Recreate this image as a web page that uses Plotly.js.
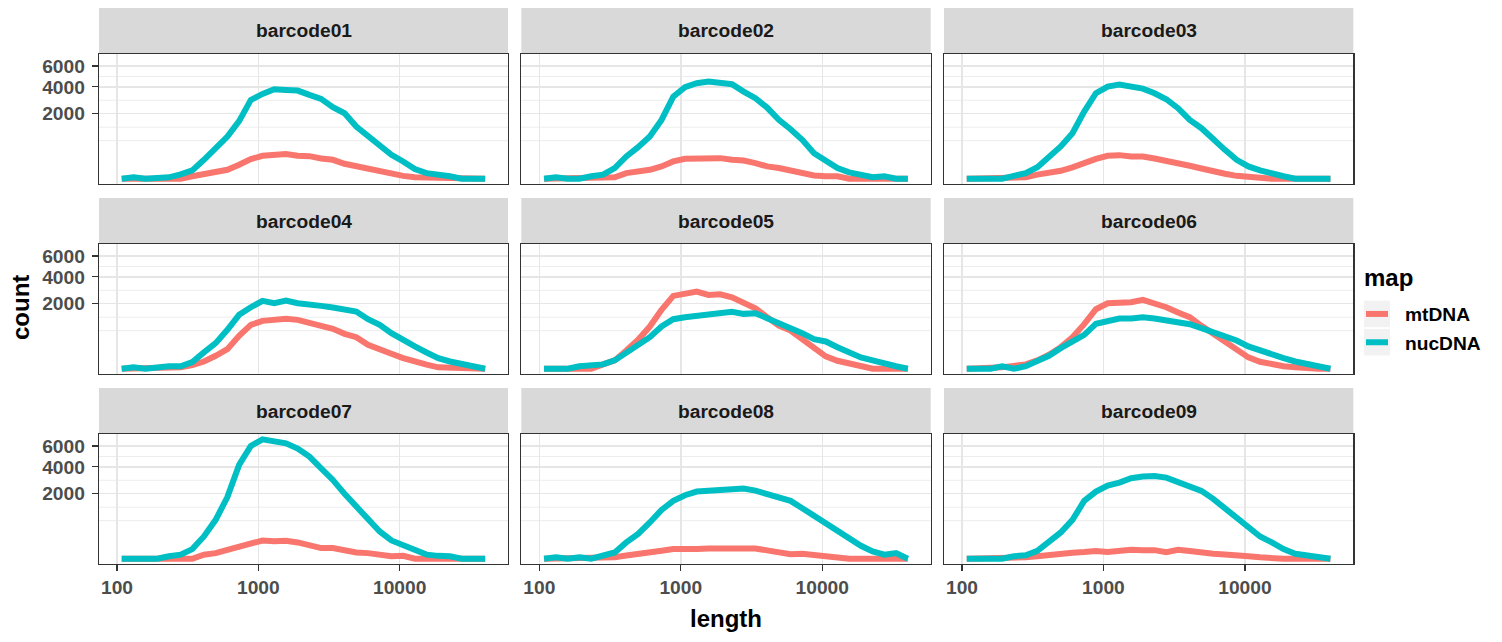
<!DOCTYPE html>
<html><head><meta charset="utf-8">
<script src="https://cdn.plot.ly/plotly-3.0.1.min.js"></script>
<style>html,body{margin:0;padding:0;background:#fff}#chart{width:1502px;height:642px}</style>
</head><body><div id="chart"></div>
<script>
// ---------- data ----------
const barcodes = ['barcode01','barcode02','barcode03','barcode04','barcode05','barcode06','barcode07','barcode08','barcode09'];
const seriesNames = ['mtDNA','nucDNA'];
const seriesColors = ['#F8766D','#00BFC4'];
const lengths = [108,131,159,192,233,282,341,412,499,604,731,885,1071,1296,1569,1899,2298,2782,3367,4075,4932,5969,7224,8744,10583,12809,15503,18764,22711,27487,33268,40265];

const mt01  = [0,0,0,0,0,0,3,10,19,38,92,182,249,264,287,249,242,195,170,106,72,47,23,10,4,1,1,0,0,0,0,0];
const nuc01 = [0,1,0,0,1,9,33,170,472,844,1570,2940,3404,3788,3732,3677,3325,3015,2420,2032,1290,844,513,271,142,44,15,9,3,0,0,0];
const mt02  = [0,0,0,0,0,0,1,15,25,38,72,142,188,201,188,201,170,158,116,72,54,33,12,5,3,3,0,0,0,0,0,0];
const nuc02 = [0,1,0,0,3,8,54,235,472,844,1640,3194,3959,4313,4464,4283,4223,3594,3066,2398,1640,1162,717,310,158,54,19,8,1,3,0,0];
const mt03  = [0,0,0,0,0,1,8,15,30,61,126,188,249,264,235,235,195,158,126,80,50,25,12,4,1,0,0,0,0,0,0,0];
const nuc03 = [0,0,0,0,4,15,64,235,493,983,2136,3458,4017,4193,4046,3845,3458,2991,2353,1640,1210,717,396,170,72,33,12,3,0,0,0,0];
const mt04  = [0,0,0,0,0,1,6,25,80,182,513,912,1086,1131,1178,1131,983,844,754,577,472,271,170,106,54,23,8,1,1,0,0,0];
const nuc04 = [0,1,0,1,3,3,21,126,310,717,1374,1792,2179,2032,2200,2032,1991,1870,1773,1696,1549,1162,912,599,378,235,126,54,25,10,1,0];
const mt05  = [0,0,0,0,0,9,33,158,396,844,1640,2511,2698,2818,2580,2627,2420,2073,1734,1258,885,692,415,201,72,30,12,3,0,0,0,0];
const nuc05 = [0,0,0,3,4,9,33,126,271,472,844,1162,1258,1324,1408,1460,1531,1425,1460,1210,983,818,599,415,352,221,116,61,33,12,3,0];
const mt06  = [0,0,0,1,4,9,33,92,221,472,940,1677,2032,2073,2094,2243,2011,1792,1495,1258,871,566,327,158,61,23,8,3,1,0,0,0];
const nuc06 = [0,0,0,3,0,3,30,80,201,352,545,954,1101,1194,1194,1258,1194,1101,1026,940,779,633,534,378,235,153,92,54,25,12,1,0];
const mt07  = [0,0,0,0,0,0,0,8,15,38,72,116,158,147,153,126,80,54,54,30,19,15,8,3,4,0,0,0,0,0,0,0];
const nuc07 = [0,0,0,0,3,8,44,235,717,1800,4164,6017,6748,6598,6304,5736,4934,3874,2941,1991,1324,741,352,158,92,38,8,4,3,0,0,0];
const mt08  = [0,0,0,0,0,0,1,5,9,15,30,44,38,44,50,50,61,47,50,33,19,10,12,6,3,1,0,0,0,0,0,0];
const nuc08 = [0,1,0,1,0,4,19,126,294,622,1131,1585,1910,2136,2179,2265,2353,2331,2200,1991,1831,1585,1210,871,633,396,201,80,25,8,15,0];
const mt09  = [0,0,0,0,0,1,3,8,10,17,21,28,21,30,38,35,35,21,38,28,17,12,9,8,3,1,0,0,0,0,0,0];
const nuc09 = [0,0,0,0,3,6,30,126,327,717,1585,2136,2534,2746,3066,3194,3246,3117,2818,2534,2179,1696,1210,779,434,235,126,44,12,4,1,0];

const yBreaks = [2000,4000,6000];
const xBreaks = [100,1000,10000];
const xTickText = ['100','1000','10000'];

const panelData = [[mt01,nuc01],[mt02,nuc02],[mt03,nuc03],[mt04,nuc04],[mt05,nuc05],[mt06,nuc06],[mt07,nuc07],[mt08,nuc08],[mt09,nuc09]];

// ---------- layout geometry ----------
const W = 1502, H = 642;
const FONT = 'Liberation Sans, Arial, Helvetica, sans-serif';
const colPx = [[99,508],[521.3,930.7],[944,1353.3]];
const rowPx = [[54,184],[244,374],[434,564]];
const stripH = 46;
const fx = p => p / W, fy = p => 1 - p / H;
const X_RANGE = [1.8726, 4.7666];   // log10 units
const Y_RANGE = [-3.6, 85.8];       // sqrt units

// sqrt transform for the y scale (ggplot scale_y_sqrt)
const sq = v => Math.sqrt(v);
const yMajS = yBreaks.map(sq);
const xMajL = xBreaks.map(Math.log10);
// ggplot-style minor breaks: midpoints in transformed space, extended one step below/above
function minorBetween(maj) {
  const bd = maj[1] - maj[0];
  const ext = [maj[0] - bd, ...maj, maj[maj.length - 1] + bd];
  const out = [];
  for (let i = 0; i < ext.length - 1; i++) {
    if (!maj.includes(ext[i])) out.push(ext[i]);
    out.push((ext[i] + ext[i + 1]) / 2);
  }
  return out;
}
const yMinor = minorBetween(yMajS).filter(v => v > Y_RANGE[0] && v < Y_RANGE[1]);
const xMinor = minorBetween(xMajL).filter(v => v > X_RANGE[0] && v < X_RANGE[1]);

const traces = [];
const layout = {
  width: W, height: H,
  margin: {l: 0, r: 0, t: 0, b: 0},
  paper_bgcolor: '#FFFFFF', plot_bgcolor: '#FFFFFF',
  showlegend: false,
  shapes: [], annotations: []
};

const gridMajor = '#E6E6E6', gridMinor = '#EDEDED';
for (let i = 0; i < 9; i++) {
  const r = Math.floor(i / 3), c = i % 3;
  const sfx = i === 0 ? '' : String(i + 1);
  const xa = 'x' + sfx, ya = 'y' + sfx;
  layout['xaxis' + sfx] = {
    domain: [fx(colPx[c][0]), fx(colPx[c][1])], anchor: ya,
    type: 'log', range: X_RANGE,
    tickmode: 'array', tickvals: xBreaks, ticktext: xTickText,
    showticklabels: r === 2, ticks: r === 2 ? 'outside' : '', ticklen: 6, tickwidth: 1.3, tickcolor: '#333333',
    ticklabelstandoff: 0,
    tickfont: {family: FONT, size: 19.2, color: '#4D4D4D', weight: 700},
    showgrid: true, gridcolor: gridMajor, gridwidth: 1.5,
    showline: true, mirror: true, linecolor: '#333333', linewidth: 1.3,
    zeroline: false, fixedrange: true
  };
  layout['yaxis' + sfx] = {
    domain: [fy(rowPx[r][1]), fy(rowPx[r][0])], anchor: xa,
    range: Y_RANGE,
    tickmode: 'array', tickvals: yMajS, ticktext: yBreaks.map(String),
    showticklabels: c === 0, ticks: c === 0 ? 'outside' : '', ticklen: 6, tickwidth: 1.3, tickcolor: '#333333',
    ticklabelstandoff: 3,
    tickfont: {family: FONT, size: 19.2, color: '#4D4D4D', weight: 700},
    showgrid: true, gridcolor: gridMajor, gridwidth: 1.5,
    showline: true, mirror: true, linecolor: '#333333', linewidth: 1.3,
    zeroline: false, fixedrange: true
  };
  // minor grid lines (ggplot style)
  xMinor.forEach(v => layout.shapes.push({type: 'line', xref: xa, yref: ya + ' domain', x0: v, x1: v, y0: 0, y1: 1,
    layer: 'below', line: {color: gridMinor, width: 1}}));
  yMinor.forEach(v => layout.shapes.push({type: 'line', xref: xa + ' domain', yref: ya, x0: 0, x1: 1, y0: v, y1: v,
    layer: 'below', line: {color: gridMinor, width: 1}}));
  for (let s = 0; s < 2; s++) {
    traces.push({
      type: 'scatter', mode: 'lines', xaxis: xa, yaxis: ya,
      name: seriesNames[s],
      x: lengths, y: panelData[i][s].map(sq),
      line: {color: seriesColors[s], width: 6, shape: 'linear'},
      hoverinfo: 'skip'
    });
  }
  // strip
  layout.shapes.push({type: 'rect', xref: 'paper', yref: 'paper', layer: 'below',
    x0: fx(colPx[c][0]), x1: fx(colPx[c][1]), y0: fy(rowPx[r][0]), y1: fy(rowPx[r][0] - stripH),
    fillcolor: '#D9D9D9', line: {width: 0}});
  layout.annotations.push({xref: 'paper', yref: 'paper', showarrow: false,
    x: fx((colPx[c][0] + colPx[c][1]) / 2), y: fy(rowPx[r][0] - stripH / 2),
    xanchor: 'center', yanchor: 'middle', text: barcodes[i],
    font: {family: FONT, size: 19.2, color: '#1A1A1A', weight: 700}});
}

// axis titles
layout.annotations.push({xref: 'paper', yref: 'paper', showarrow: false, x: fx(726), y: fy(618),
  xanchor: 'center', yanchor: 'middle', text: 'length', font: {family: FONT, size: 24, color: '#000000', weight: 700}});
layout.annotations.push({xref: 'paper', yref: 'paper', showarrow: false, x: fx(20), y: fy(308),
  xanchor: 'center', yanchor: 'middle', textangle: -90, text: 'count', font: {family: FONT, size: 24, color: '#000000', weight: 700}});

// legend (ggplot style)
layout.annotations.push({xref: 'paper', yref: 'paper', showarrow: false, x: fx(1362), y: fy(278),
  xanchor: 'left', yanchor: 'middle', text: 'map', font: {family: FONT, size: 24, color: '#000000', weight: 700}});
const keyTop = [300.7, 329];
for (let s = 0; s < 2; s++) {
  const t = keyTop[s], b = t + 26.5, m = (t + b) / 2;
  layout.shapes.push({type: 'rect', xref: 'paper', yref: 'paper', x0: fx(1364), x1: fx(1390), y0: fy(b), y1: fy(t),
    fillcolor: '#F2F2F2', line: {width: 0}});
  layout.shapes.push({type: 'line', xref: 'paper', yref: 'paper', x0: fx(1366), x1: fx(1388), y0: fy(m), y1: fy(m),
    line: {color: seriesColors[s], width: 6}});
  layout.annotations.push({xref: 'paper', yref: 'paper', showarrow: false, x: fx(1403), y: fy(m + 1),
    xanchor: 'left', yanchor: 'middle', text: seriesNames[s], font: {family: FONT, size: 19.2, color: '#000000', weight: 700}});
}

Plotly.newPlot('chart', traces, layout, {displayModeBar: false, staticPlot: true});
</script>
</body></html>
